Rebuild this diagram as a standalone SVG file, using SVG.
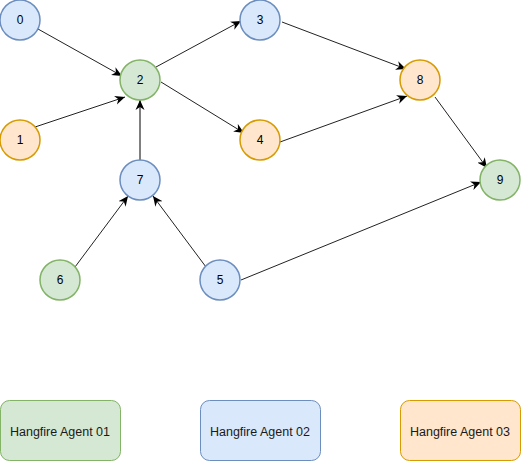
<svg xmlns="http://www.w3.org/2000/svg" width="523" height="462" viewBox="0 0 523 462">
<style>
.n circle{stroke-width:1.5}
.g{fill:#d5e8d4;stroke:#82b366}
.b{fill:#dae8fc;stroke:#6c8ebf}
.o{fill:#ffe6cc;stroke:#d79b00}
text{font-family:"Liberation Sans",Arial,sans-serif;font-size:12px;fill:#000;text-anchor:middle;dominant-baseline:central}
.lg text{font-size:12.5px;fill:#1a1a1a}
.e line{stroke:#222;stroke-width:1;marker-end:url(#a)}
</style>
<defs>
<marker id="a" markerUnits="userSpaceOnUse" markerWidth="12" markerHeight="10" refX="10" refY="4.5" orient="auto" viewBox="0 0 12 9">
<path d="M10,4.5 L0,0 L3,4.5 L0,9 Z" fill="#000"/>
</marker>
</defs>
<rect width="523" height="462" fill="#fff"/>
<g id="connectors" class="e">
<line x1="38" y1="29" x2="122" y2="76"/>
<line x1="35" y1="127" x2="125" y2="97"/>
<line x1="156" y1="67" x2="241" y2="21"/>
<line x1="161" y1="82" x2="244" y2="133"/>
<line x1="282" y1="22" x2="406" y2="69"/>
<line x1="280" y1="142" x2="407" y2="96"/>
<line x1="435" y1="97" x2="487" y2="168"/>
<line x1="241" y1="280" x2="481" y2="182"/>
<line x1="140" y1="160" x2="140" y2="100" style="stroke:#000"/>
<line x1="75" y1="267" x2="128" y2="196"/>
<line x1="206" y1="267" x2="153" y2="196"/>
</g>
<g id="node0" class="n"><circle class="b" cx="20" cy="20" r="20"/><text x="20" y="20">0</text></g>
<g id="node1" class="n"><circle class="o" cx="20" cy="140" r="20"/><text x="20" y="140">1</text></g>
<g id="node2" class="n"><circle class="g" cx="140" cy="80" r="20"/><text x="140" y="80">2</text></g>
<g id="node3" class="n"><circle class="b" cx="260" cy="20" r="20"/><text x="260" y="20">3</text></g>
<g id="node4" class="n"><circle class="o" cx="260" cy="140" r="20"/><text x="260" y="140">4</text></g>
<g id="node5" class="n"><circle class="b" cx="220" cy="280" r="20"/><text x="220" y="280">5</text></g>
<g id="node6" class="n"><circle class="g" cx="60" cy="280" r="20"/><text x="60" y="280">6</text></g>
<g id="node7" class="n"><circle class="b" cx="140" cy="180" r="20"/><text x="140" y="180">7</text></g>
<g id="node8" class="n"><circle class="o" cx="420" cy="80" r="20"/><text x="420" y="80">8</text></g>
<g id="node9" class="n"><circle class="g" cx="500" cy="180" r="20"/><text x="500" y="180">9</text></g>
<g id="agent01" class="lg"><rect class="g" x="0.5" y="400.5" width="120" height="60" rx="9"/><text x="60" y="431.5">Hangfire Agent 01</text></g>
<g id="agent02" class="lg"><rect class="b" x="200.5" y="400.5" width="120" height="60" rx="9"/><text x="260" y="431.5">Hangfire Agent 02</text></g>
<g id="agent03" class="lg"><rect class="o" x="400.5" y="400.5" width="120" height="60" rx="9"/><text x="460" y="431.5">Hangfire Agent 03</text></g>
</svg>
